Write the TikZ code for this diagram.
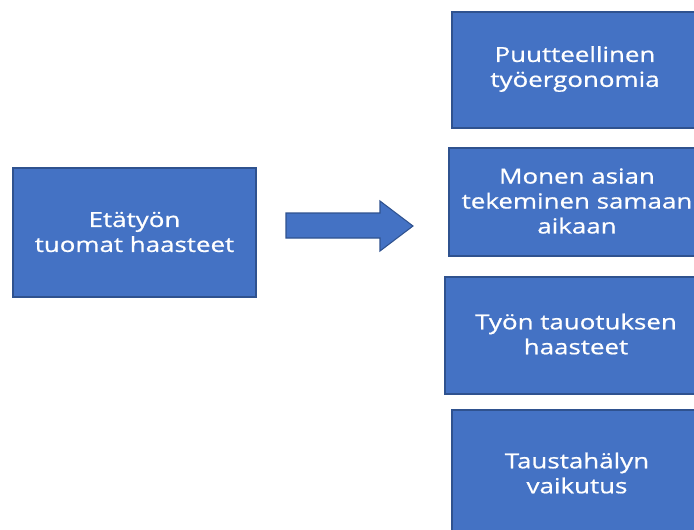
\documentclass[tikz,border=0pt]{standalone}
\usepackage{fontspec}
\setmainfont{Open Sans}[FakeStretch=1.25,FakeBold=0.8]
\definecolor{laatikko}{HTML}{4472C4}
\definecolor{reuna}{HTML}{2F528F}
\tikzset{
  laatikko/.style={fill=laatikko, draw=reuna, line width=0.6pt},
  teksti/.style={text=white, align=center, font=\fontsize{11.8}{14.2}\selectfont}
}
\begin{document}
\begin{tikzpicture}[x=0.02cm,y=-0.02cm]
  \useasboundingbox (0,0) rectangle (694,529);
  \clip (0,0) rectangle (694,529);
  % vasen laatikko
  \draw[laatikko] (13,168) rectangle (256,297);
  \node[teksti] (haasteet) at (134.5,232) {Etätyön\\tuomat haasteet};

  % nuoli
  \draw[laatikko] (286,213) -- (380,213) -- (380,201) -- (413,226)
    -- (380,251) -- (380,238) -- (286,238) -- cycle;

  % oikeat laatikot
  \draw[laatikko] (452,12) rectangle (700,128);
  \draw[laatikko] (449,148) rectangle (705,256);
  \draw[laatikko] (445,277) rectangle (707,394);
  \draw[laatikko] (452,410) rectangle (703,540);

  \node[teksti] (ergo)  at (575,69)  {Puutteellinen\\työergonomia};
  \node[teksti] (monen) at (577,201) {Monen asian\\tekeminen samaan\\aikaan};
  \node[teksti] (tauko) at (576,334) {Työn tauotuksen\\haasteet};
  \node[teksti] (melu)  at (577,473) {Taustahälyn\\vaikutus};
\end{tikzpicture}
\end{document}
